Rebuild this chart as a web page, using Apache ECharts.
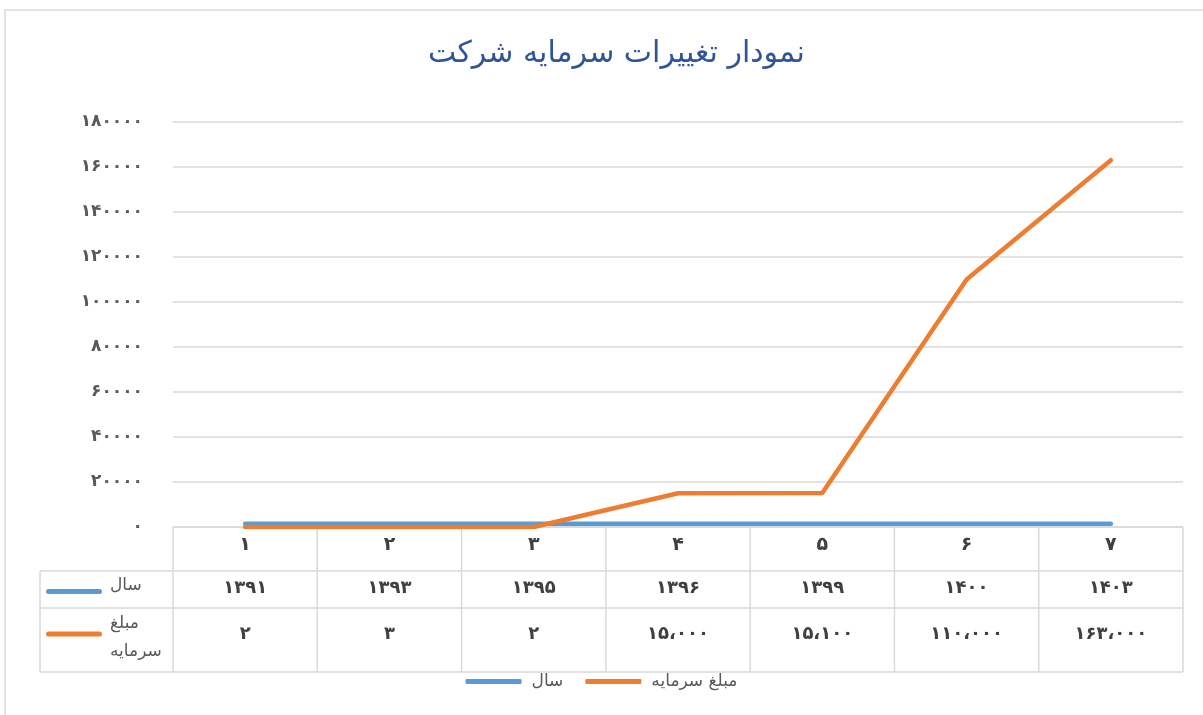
<!DOCTYPE html>
<html>
<head>
<meta charset="utf-8">
<script src="https://cdn.jsdelivr.net/npm/echarts@6/dist/echarts.min.js"></script>
<style>
html,body{margin:0;padding:0;background:#fff;}
#main{width:1203px;height:715px;}
</style>
</head>
<body>
<div id="main"></div>
<script>
const titleText = 'نمودار تغییرات سرمایه شرکت';
const categories = ['1', '2', '3', '4', '5', '6', '7'];
const seriesNames = ['سال', 'مبلغ سرمایه'];
const yearValues = [1391, 1393, 1395, 1396, 1399, 1400, 1403];
const capitalValues = [2, 3, 2, 15000, 15100, 110000, 163000];
const yMin = 0, yMax = 180000, yStep = 20000;
const rowLabels = [['سال'], ['مبلغ', 'سرمایه']];
const colors = ['#5B9BD5', '#ED7D31'];

function toFa(v) {
  return String(v).replace(/[0-9]/g, d => '۰۱۲۳۴۵۶۷۸۹'[d]);
}
function fmtThousands(v) {
  const s = String(v);
  if (v < 1000) return toFa(s);
  return toFa(s.replace(/\B(?=(\d{3})+(?!\d))/g, '،'));
}

const FONT = 'DejaVu Sans';
const TXT = '#595959';
const LINE = '#D9D9D9';
const gridL = 173, gridR = 20, gridT = 122, gridB = 188;

const chart = echarts.init(document.getElementById('main'));
chart.setOption({
  backgroundColor: '#fff',
  animation: false,
  title: {
    text: titleText, left: 423, top: 34,
    textStyle: { color: '#2F5597', fontSize: 30, fontWeight: 'normal', fontFamily: FONT }
  },
  legend: {
    bottom: 20, left: 'center',
    itemWidth: 56, itemHeight: 5, itemGap: 22, icon: 'roundRect',
    textStyle: { color: TXT, fontSize: 17, fontFamily: FONT, padding: [0, 0, 0, 5] },
    data: seriesNames
  },
  grid: { left: gridL, right: gridR, top: gridT, bottom: gridB },
  xAxis: {
    type: 'category', data: categories, boundaryGap: true,
    axisLine: { show: false }, axisTick: { show: false },
    axisLabel: { formatter: v => toFa(v), color: '#404040', fontSize: 19, fontWeight: 'bold', fontFamily: FONT, margin: 9 }
  },
  yAxis: {
    type: 'value', min: yMin, max: yMax, interval: yStep,
    axisLine: { show: false }, axisTick: { show: false },
    axisLabel: { formatter: v => toFa(v), color: TXT, fontSize: 17, fontFamily: FONT, fontWeight: 'bold', margin: 30 },
    splitLine: { lineStyle: { color: LINE, width: 1.5 } }
  },
  series: [
    { name: seriesNames[0], type: 'line', data: yearValues, symbol: 'none', color: colors[0],
      lineStyle: { width: 4.5, cap: 'round', join: 'round' }, z: 3 },
    { name: seriesNames[1], type: 'line', data: capitalValues, symbol: 'none', color: colors[1],
      lineStyle: { width: 4.5, cap: 'round', join: 'round' }, z: 4 }
  ]
});

// Data table under the plot, positioned from the axis scale
(function () {
  const n = categories.length;
  const cx0 = chart.convertToPixel({ xAxisIndex: 0 }, 0);
  const cx1 = chart.convertToPixel({ xAxisIndex: 0 }, 1);
  const band = cx1 - cx0;
  const tLeft = cx0 - band / 2;
  const tRight = tLeft + band * n;
  const tTop = chart.convertToPixel({ yAxisIndex: 0 }, 0);
  const rowY = [tTop, tTop + 44, tTop + 81, tTop + 145];
  const keyLeft = 40;
  const els = [];
  function ln(xa, ya, xb, yb) {
    els.push({ type: 'line', shape: { x1: xa, y1: ya, x2: xb, y2: yb }, style: { stroke: LINE, lineWidth: 1.5 }, z: 1 });
  }
  ln(tLeft, rowY[0], tRight, rowY[0]);
  for (let r = 1; r < rowY.length; r++) ln(keyLeft, rowY[r], tRight, rowY[r]);
  ln(keyLeft, rowY[1], keyLeft, rowY[3]);
  for (let c = 0; c <= n; c++) ln(tLeft + band * c, rowY[0], tLeft + band * c, rowY[3]);
  // outer chart border
  els.push({ type: 'rect', shape: { x: 5, y: 10, width: 1250, height: 760 }, style: { fill: null, stroke: LINE, lineWidth: 1.5 }, z: 0 });

  const rows = [yearValues.map(v => toFa(v)), capitalValues.map(fmtThousands)];
  rows.forEach((vals, r) => {
    const cy = (rowY[r + 1] + rowY[r + 2]) / 2 + (r === 1 ? -6 : -1);
    vals.forEach((t, i) => {
      els.push({ type: 'text', x: chart.convertToPixel({ xAxisIndex: 0 }, i), y: cy,
        style: { text: t, fill: '#404040', font: 'bold 18px "DejaVu Sans"', align: 'center', verticalAlign: 'middle' }, z: 5 });
    });
    els.push({ type: 'rect', shape: { x: 46, y: cy - 2.5 + (r === 0 ? 3 : 0), width: 56, height: 5, r: 2.5 }, style: { fill: colors[r] }, z: 5 });
    const lab = rowLabels[r];
    lab.forEach((t, k) => {
      const ty = lab.length === 1 ? cy - 3 : cy - 10 + k * 28;
      els.push({ type: 'text', x: 110, y: ty,
        style: { text: t, fill: TXT, font: '17px "DejaVu Sans"', align: 'left', verticalAlign: 'middle' }, z: 5 });
    });
  });
  chart.setOption({ graphic: { elements: els } });
})();
</script>
</body>
</html>
